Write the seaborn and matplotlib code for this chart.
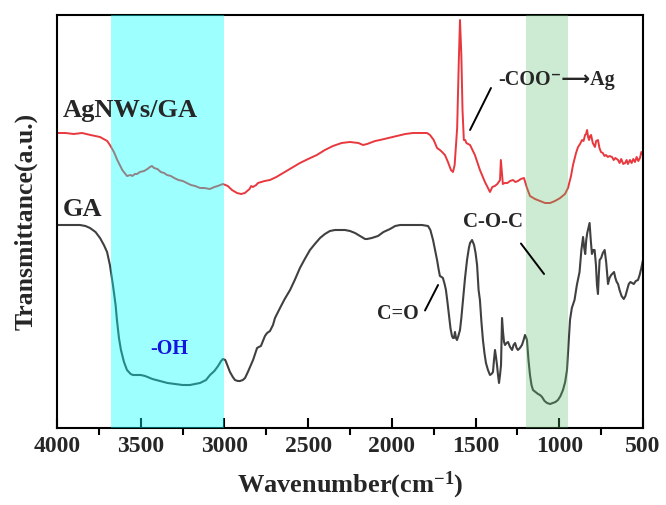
import numpy as np
import pandas as pd
import matplotlib
matplotlib.use("Agg")
import matplotlib.pyplot as plt
import seaborn as sns

# ---------------- data (arbitrary transmittance units) ----------------
ag_wn = [4000, 3950, 3900, 3850, 3800, 3743, 3700, 3684, 3660, 3640, 3610, 3582, 3560, 3550, 3535,
         3522, 3505, 3480, 3460, 3445, 3433, 3420, 3400, 3380, 3360, 3343, 3320, 3300, 3275, 3248,
         3225, 3200, 3175, 3146, 3120, 3087, 3060, 3040, 3009, 2980, 2955, 2925, 2900, 2878,
         2850, 2840, 2830, 2810, 2800, 2760, 2728, 2690, 2650, 2600, 2549, 2500, 2448, 2400, 2352,
         2300, 2251, 2200, 2172, 2148, 2100, 2071, 2020, 1969, 1920, 1874, 1830, 1790, 1772, 1750,
         1730, 1713, 1700, 1683, 1665, 1647, 1635, 1625, 1615, 1610, 1600, 1593, 1585, 1578, 1570,
         1562, 1555, 1533, 1504, 1474, 1444, 1414, 1400, 1385, 1370, 1354, 1349, 1343, 1337, 1326,
         1310, 1294, 1277, 1262, 1247, 1230, 1211, 1200, 1193, 1175, 1145, 1115, 1085, 1055, 1026,
         995, 966, 948, 930, 918, 900, 888, 876, 864, 855, 846, 840, 834, 828, 822, 816, 810, 800,
         787, 780, 769, 760, 751, 740, 730, 721, 710, 700, 685, 675, 665, 649, 640, 630, 618, 607,
         598, 590, 578, 568, 558, 548, 538, 528, 518, 510, 500]
ag_px = [133, 133, 134, 133, 135, 137, 141, 145, 152, 160, 170, 176, 175, 176, 174,
         174, 172, 171, 169, 167, 166, 168, 169, 172, 173, 175, 176, 178, 180, 181,
         183, 185, 186, 188, 188, 189, 187, 186, 184, 186, 190, 193, 194, 193,
         189, 186, 187, 185, 183, 181, 180, 177, 173, 168, 163, 159, 155, 150, 146,
         143, 142, 143, 145, 144, 141, 140, 138, 136, 134, 133, 133, 133, 135, 140,
         148, 150, 152, 155, 162, 170, 172, 165, 140, 128, 60, 20, 55, 110, 140,
         140, 143, 145, 155, 170, 182, 192, 187, 186, 184, 180, 160, 172, 184, 183,
         183, 181, 180, 182, 181, 179, 178, 184, 188, 196, 199, 201, 203, 203, 201,
         198, 194, 188, 176, 165, 153, 147, 144, 140, 141, 135, 134, 130, 137, 140, 136, 135, 143,
         147, 141, 140, 148, 152, 153, 156, 155, 157, 156, 157, 160, 158, 160, 163, 159, 164, 163,
         160, 164, 160, 163, 159, 162, 157, 161, 158, 152, 155]
ag_t = [428 - v for v in ag_px]

ga_wn = [4000, 3950, 3900, 3863, 3830, 3803, 3770, 3743, 3720, 3701, 3684, 3666, 3650, 3642, 3630,
         3618, 3600, 3582, 3560, 3546, 3500, 3474, 3430, 3385, 3340, 3295, 3250, 3206, 3146, 3110,
         3086, 3060, 3038, 3020, 3009, 2995, 2990, 2967, 2950, 2937, 2920, 2907, 2890, 2877, 2860,
         2847, 2829, 2815, 2805, 2795, 2782, 2770, 2758, 2745, 2728, 2710, 2698, 2668, 2640, 2608,
         2580, 2549, 2520, 2489, 2460, 2429, 2400, 2370, 2340, 2310, 2280, 2250, 2220, 2190, 2160,
         2148, 2120, 2083, 2050, 2011, 1980, 1951, 1900, 1862, 1820, 1784, 1770, 1754, 1740, 1730,
         1720, 1713, 1703, 1695, 1685, 1677, 1668, 1659, 1650, 1641, 1635, 1629, 1623, 1617, 1611,
         1603, 1593, 1585, 1575, 1563, 1551, 1540, 1533, 1521, 1509, 1500, 1491, 1482, 1474, 1465,
         1456, 1447, 1438, 1426, 1414, 1405, 1396, 1390, 1384, 1378, 1372, 1366, 1360, 1354, 1348,
         1342, 1336, 1330, 1324, 1315, 1306, 1294, 1282, 1273, 1264, 1255, 1247, 1235, 1223, 1213,
         1205, 1199, 1193, 1184, 1175, 1166, 1157, 1142, 1127, 1115, 1103, 1088, 1073, 1055, 1038,
         1023, 1008, 993, 978, 965, 954, 945, 936, 925, 909, 895, 879, 868, 858, 851,
         845, 839, 833, 826, 819, 812, 805, 797, 789, 781, 775, 769, 764, 759, 750,
         740, 729, 720, 709, 700, 690, 673, 665, 657, 649, 640, 628, 615, 605, 595,
         585, 575, 565, 555, 543, 530, 520, 510, 500]
ga_px = [225, 225, 225, 225, 226, 228, 232, 238, 245, 252, 265, 285, 305, 320, 338,
         350, 362, 370, 374, 375, 375, 376, 379, 381, 383, 384, 385, 385, 383, 380,
         375, 371, 366, 361, 359, 360, 362, 372, 377, 380, 381, 381, 380, 378, 372,
         367, 360, 353, 348, 347, 346, 341, 336, 333, 331, 325, 318, 308, 299, 290,
         280, 268, 259, 250, 244, 238, 234, 231, 230, 230, 230, 231, 233, 236, 239,
         239, 238, 236, 232, 229, 226, 225, 225, 225, 225, 226, 230, 240, 252, 260,
         270, 276, 277, 278, 284, 290, 302, 315, 328, 336, 338, 338, 332, 338, 340,
         336, 330, 318, 300, 278, 260, 248, 243, 240, 245, 253, 265, 290, 300, 322,
         340, 353, 363, 370, 375, 374, 372, 360, 350, 357, 365, 375, 383, 375, 365,
         318, 332, 342, 345, 343, 342, 347, 350, 345, 343, 348, 350, 348, 345, 340,
         335, 337, 340, 360, 375, 385, 390, 392, 394, 395, 397, 401, 403, 404, 403,
         402, 400, 396, 390, 382, 370, 345, 320, 308, 300, 285, 272, 250, 237, 248,
         254, 240, 233, 228, 223, 240, 254, 250, 250, 265, 285, 294, 275, 260, 258,
         253, 250, 262, 284, 278, 275, 272, 278, 282, 284, 290, 296, 299, 296, 290,
         284, 282, 283, 284, 281, 280, 275, 268, 260]
ga_t = [428 - v for v in ga_px]

xticks = [4000, 3500, 3000, 2500, 2000, 1500, 1000, 500]
oh_band = (3680, 3000)
coc_band = (1200, 950)

# ---------------- plot ----------------
sns.set_theme(style="white")
plt.rcParams["font.family"] = ["Liberation Serif", "DejaVu Sans"]
plt.rcParams["font.weight"] = "bold"
plt.rcParams["mathtext.fontset"] = "custom"
plt.rcParams["mathtext.rm"] = "Liberation Serif:bold"
plt.rcParams["mathtext.bf"] = "Liberation Serif:bold"
plt.rcParams["mathtext.default"] = "bf"

fig = plt.figure(figsize=(6.66, 5.05), dpi=100)
ax = fig.add_axes([57 / 666, 1 - 428 / 505, 586 / 666, 413 / 505])

df_ag = pd.DataFrame({"wn": ag_wn, "t": ag_t})
df_ga = pd.DataFrame({"wn": ga_wn, "t": ga_t})
sns.lineplot(data=df_ag, x="wn", y="t", ax=ax, color="#E8383D", lw=1.4,
             estimator=None, sort=False, zorder=2)
sns.lineplot(data=df_ga, x="wn", y="t", ax=ax, color="#404040", lw=1.5,
             estimator=None, sort=False, zorder=2)

ax.axvspan(*oh_band, color="#00FFFF", alpha=0.38, lw=0, zorder=3)
ax.axvspan(*coc_band, color="#5CBF6A", alpha=0.3, lw=0, zorder=3)

ax.set_xlim(4000, 500)
ax.set_ylim(0, 413)
ax.set_xticks(xticks)
ax.set_xticklabels([str(v) for v in xticks])
ax.set_xticks([3750, 3250, 2750, 2250, 1750, 1250, 750], minor=True)
ax.set_yticks([])
ax.tick_params(axis="x", which="major", direction="in", length=7, width=1.5,
               labelsize=17, pad=6, color="black", bottom=True)
ax.tick_params(axis="x", which="minor", direction="out", length=5, width=1.5,
               color="black", bottom=True)
for lab in ax.get_xticklabels():
    lab.set_fontweight("bold")
for s in ax.spines.values():
    s.set_color("black")
    s.set_linewidth(1.5)

ax.set_xlabel("Wavenumber(cm$^{-1}$)", fontsize=19, fontweight="bold", labelpad=9)
ax.set_ylabel("Transmittance(a.u.)", fontsize=18.5, fontweight="bold", labelpad=14)

# annotations
ax.text(3964, 318, "AgNWs/GA", fontsize=19, fontweight="bold", ha="left", va="center", zorder=5)
ax.text(3964, 219, "GA", fontsize=19, fontweight="bold", ha="left", va="center", zorder=5)
ax.text(3331, 79, "-OH", fontsize=14.5, fontweight="bold", color="#1515E0",
        ha="center", va="center", zorder=5)
ax.text(1366, 348, "-COO\u207b\u27f6Ag", fontsize=14.5, fontweight="bold",
        family=["Liberation Serif", "DejaVu Sans"], ha="left", va="center", zorder=5)
ax.text(1575, 206, "C-O-C", fontsize=15, fontweight="bold", ha="left", va="center", zorder=5)
ax.text(2089, 114, "C=O", fontsize=14.5, fontweight="bold", ha="left", va="center", zorder=5)
ax.plot([1408, 1533], [340, 298], color="black", lw=1.4, zorder=5)
ax.plot([1229, 1091], [184.5, 154], color="black", lw=1.4, zorder=5)
ax.plot([1802, 1724], [117.5, 143], color="black", lw=1.4, zorder=5)

fig.savefig("out.png", dpi=100)
